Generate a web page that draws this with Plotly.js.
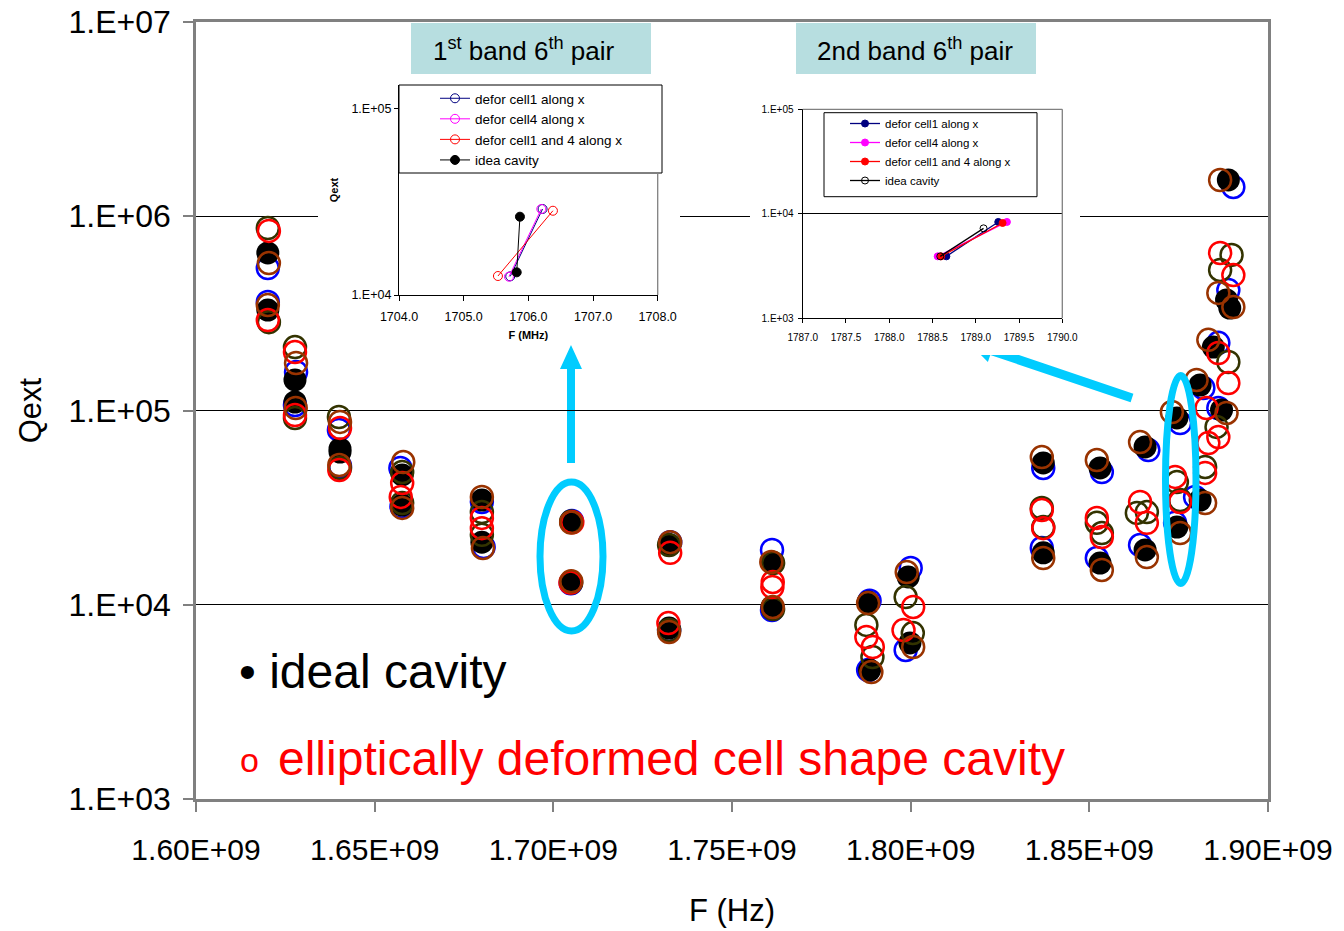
<!DOCTYPE html>
<html>
<head>
<meta charset="utf-8">
<script src="https://cdn.plot.ly/plotly-3.0.1.min.js"></script>
<style>
  html, body { margin: 0; padding: 0; background: #fff; }
  #chart { width: 1344px; height: 931px; }
</style>
</head>
<body>
<div id="chart"></div>
<script>
// ---------- main chart: Qext versus frequency ----------
const freqTicks = [1.60e9, 1.65e9, 1.70e9, 1.75e9, 1.80e9, 1.85e9, 1.90e9];
const freqTickText = ['1.60E+09', '1.65E+09', '1.70E+09', '1.75E+09', '1.80E+09', '1.85E+09', '1.90E+09'];
const qextTicks = [1e3, 1e4, 1e5, 1e6, 1e7];
const qextTickText = ['1.E+03', '1.E+04', '1.E+05', '1.E+06', '1.E+07'];

// ideal cavity (filled black)
const idealFreq = [1.6201e9, 1.6201e9, 1.6277e9, 1.6277e9, 1.6403e9, 1.6403e9, 1.6577e9, 1.6577e9,
  1.6800e9, 1.6800e9, 1.7050e9, 1.7050e9, 1.7324e9, 1.7324e9, 1.7612e9, 1.7612e9,
  1.7881e9, 1.7885e9, 1.7993e9, 1.7998e9, 1.8371e9, 1.8371e9, 1.8530e9, 1.8530e9,
  1.8656e9, 1.8656e9, 1.8745e9, 1.8745e9, 1.8810e9, 1.8810e9, 1.8847e9, 1.8870e9,
  1.8884e9, 1.8893e9, 1.8889e9];
const idealQext = [6.47e5, 3.29e5, 1.436e5, 1.106e5, 6.34e4, 6.11e4, 4.66e4, 3.26e4,
  3.46e4, 2.10e4, 2.67e4, 1.31e4, 2.03e4, 7.59e3, 1.66e4, 9.74e3,
  1.033e4, 4.61e3, 1.39e4, 6.36e3, 5.37e4, 1.85e4, 5.06e4, 1.64e4,
  6.49e4, 1.914e4, 9.15e4, 2.51e4, 1.353e5, 3.46e4, 2.12e5, 1.006e5,
  3.71e5, 3.37e5, 1.537e6];

// deformed cavities (open circles)
const blueFreq = [1.6201e9, 1.6201e9, 1.6280e9, 1.6277e9, 1.6400e9, 1.6403e9, 1.6572e9, 1.6575e9,
  1.6800e9, 1.6805e9, 1.7052e9, 1.7049e9, 1.7327e9, 1.7324e9, 1.7612e9, 1.7612e9,
  1.7885e9, 1.7881e9, 1.8000e9, 1.7986e9, 1.8371e9, 1.8367e9, 1.8535e9, 1.8521e9,
  1.8665e9, 1.8642e9, 1.8754e9, 1.8740e9, 1.8819e9, 1.8796e9, 1.8861e9, 1.8861e9,
  1.8889e9, 1.8903e9];
const blueQext = [5.41e5, 3.62e5, 1.579e5, 1.067e5, 7.94e4, 5.18e4, 5.06e4, 3.20e4,
  3.38e4, 1.983e4, 2.70e4, 1.29e4, 2.10e4, 7.41e3, 1.914e4, 9.40e3,
  1.05e4, 4.61e3, 1.546e4, 5.85e3, 5.06e4, 1.96e4, 4.82e4, 1.74e4,
  6.26e4, 2.03e4, 8.62e4, 2.64e4, 1.306e5, 3.59e4, 2.23e5, 1.030e5,
  4.17e5, 1.415e6];

const redFreq = [1.6204e9, 1.6201e9, 1.6277e9, 1.6277e9, 1.6403e9, 1.6401e9, 1.6577e9, 1.6573e9,
  1.6800e9, 1.6800e9, 1.7053e9, 1.7048e9, 1.7327e9, 1.7322e9, 1.7614e9, 1.7613e9,
  1.7876e9, 1.7894e9, 1.8007e9, 1.7980e9, 1.8367e9, 1.8371e9, 1.8521e9, 1.8535e9,
  1.8642e9, 1.8661e9, 1.8740e9, 1.8754e9, 1.8833e9, 1.8824e9, 1.8861e9, 1.8889e9,
  1.8828e9, 1.8861e9, 1.8866e9, 1.8903e9];
const redQext = [8.40e5, 2.92e5, 2.00e5, 9.48e4, 8.13e4, 4.94e4, 4.23e4, 3.59e4,
  2.80e4, 2.48e4, 2.66e4, 1.30e4, 1.85e4, 8.05e3, 1.31e4, 1.234e4,
  6.82e3, 6.06e3, 9.74e3, 7.41e3, 3.07e4, 2.48e4, 2.80e4, 2.23e4,
  3.38e4, 2.64e4, 4.55e4, 3.38e4, 6.80e4, 4.77e4, 1.977e5, 1.385e5,
  1.030e5, 7.30e4, 6.47e5, 4.98e5];

const oliveFreq = [1.6201e9, 1.6204e9, 1.6277e9, 1.6277e9, 1.6400e9, 1.6403e9, 1.6577e9, 1.6577e9,
  1.6800e9, 1.6800e9, 1.7050e9, 1.7050e9, 1.7324e9, 1.7324e9, 1.7615e9, 1.7615e9,
  1.7876e9, 1.7893e9, 1.7986e9, 1.8006e9, 1.8367e9, 1.8371e9, 1.8521e9, 1.8535e9,
  1.8633e9, 1.8661e9, 1.8745e9, 1.8754e9, 1.8824e9, 1.8889e9, 1.8856e9, 1.8898e9,
  1.8866e9];
const oliveQext = [8.70e5, 2.85e5, 2.12e5, 9.15e4, 9.26e4, 5.06e4, 4.82e4, 3.34e4,
  3.00e4, 2.29e4, 2.68e4, 1.30e4, 2.03e4, 7.41e3, 1.64e4, 9.51e3,
  7.87e3, 5.38e3, 1.096e4, 7.15e3, 3.15e4, 2.51e4, 2.64e4, 2.34e4,
  2.97e4, 3.00e4, 4.28e4, 3.46e4, 5.12e4, 1.777e5, 8.23e4, 6.32e5,
  5.29e5];

const brownFreq = [1.6204e9, 1.6201e9, 1.6280e9, 1.6279e9, 1.6403e9, 1.6401e9, 1.6580e9, 1.6577e9,
  1.6800e9, 1.6803e9, 1.7050e9, 1.7050e9, 1.7327e9, 1.7324e9, 1.7610e9, 1.7614e9,
  1.7881e9, 1.7890e9, 1.7989e9, 1.8007e9, 1.8367e9, 1.8371e9, 1.8521e9, 1.8535e9,
  1.8642e9, 1.8661e9, 1.8731e9, 1.8754e9, 1.8800e9, 1.8824e9, 1.8833e9, 1.8884e9,
  1.8861e9, 1.8903e9, 1.8866e9];
const brownQext = [5.74e5, 3.49e5, 1.756e5, 1.030e5, 8.73e4, 5.24e4, 5.43e4, 3.15e4,
  3.59e4, 1.96e4, 2.65e4, 1.32e4, 2.10e4, 7.24e3, 1.66e4, 9.74e3,
  1.02e4, 4.50e3, 1.474e4, 6.06e3, 5.76e4, 1.74e4, 5.56e4, 1.51e4,
  6.88e4, 1.76e4, 9.82e4, 2.34e4, 1.436e5, 3.34e4, 2.31e5, 9.71e4,
  4.03e5, 3.41e5, 1.537e6];

// ---------- inset: 1st band 6th pair (MHz) ----------
const band1Ticks = [1704, 1705, 1706, 1707, 1708];
const band1TickText = ['1704.0', '1705.0', '1706.0', '1707.0', '1708.0'];
const band1Names = ['defor cell1 along x', 'defor cell4 along x', 'defor cell1 and 4 along x', 'idea cavity'];
const band1Freq = [[1705.72, 1706.22], [1705.70, 1706.20], [1705.53, 1706.38], [1705.82, 1705.87]];
const band1Qext = [[12600, 29000], [12540, 29000], [12650, 28380], [13240, 26360]];

// ---------- inset: 2nd band 6th pair (MHz) ----------
const band2Ticks = [1787.0, 1787.5, 1788.0, 1788.5, 1789.0, 1789.5, 1790.0];
const band2TickText = ['1787.0', '1787.5', '1788.0', '1788.5', '1789.0', '1789.5', '1790.0'];
const band2Names = ['defor cell1 along x', 'defor cell4 along x', 'defor cell1 and 4 along x', 'idea cavity'];
const band2Freq = [[1788.66, 1789.26], [1788.56, 1789.36], [1788.60, 1789.31], [1788.59, 1789.09]];
const band2Qext = [[3917, 8356], [3917, 8356], [3917, 8170], [3917, 7260]];

// ---------- geometry helpers (pixel -> paper) ----------
const W = 1344, H = 931;
const M = { l: 196, r: 76, t: 22, b: 132 };
const PW = W - M.l - M.r;
const PH = H - M.t - M.b;
const fx = p => (p - M.l) / PW;
const fy = p => (H - M.b - p) / PH;
const poly = pts => 'M' + pts.map(p => fx(p[0]).toFixed(5) + ',' + fy(p[1]).toFixed(5)).join('L') + 'Z';

const FONT = 'Liberation Sans, Arial, sans-serif';
const CYAN = '#00CCFF';

// ---------- traces ----------
const openRing = (color) => ({ symbol: 'circle-open', size: 22, color: color, line: { width: 2.5, color: color } });

const traces = [];
traces.push({ type: 'scatter', mode: 'markers', x: blueFreq, y: blueQext, marker: openRing('#0000FF'), showlegend: false, hoverinfo: 'x+y' });
traces.push({ type: 'scatter', mode: 'markers', x: idealFreq, y: idealQext,
  marker: { symbol: 'circle', size: 23, color: '#000000', line: { width: 0 } }, showlegend: false, hoverinfo: 'x+y' });
traces.push({ type: 'scatter', mode: 'markers', x: oliveFreq, y: oliveQext, marker: openRing('#333300'), showlegend: false, hoverinfo: 'x+y' });
traces.push({ type: 'scatter', mode: 'markers', x: redFreq, y: redQext, marker: openRing('#FF0000'), showlegend: false, hoverinfo: 'x+y' });
traces.push({ type: 'scatter', mode: 'markers', x: brownFreq, y: brownQext, marker: openRing('#993300'), showlegend: false, hoverinfo: 'x+y' });

// white backing panels behind the two insets
traces.push({ type: 'scatter', x: [], y: [], xaxis: 'x2', yaxis: 'y2', showlegend: false, hoverinfo: 'skip' });
traces.push({ type: 'scatter', x: [], y: [], xaxis: 'x4', yaxis: 'y4', showlegend: false, hoverinfo: 'skip' });

const band1Colors = ['#000080', '#FF00FF', '#FF0000', '#000000'];
const band1Symbols = ['circle-open', 'circle-open', 'circle-open', 'circle'];
band1Names.forEach((name, i) => {
  traces.push({
    type: 'scatter', mode: 'lines+markers', name: name,
    x: band1Freq[i], y: band1Qext[i], xaxis: 'x3', yaxis: 'y3', legend: 'legend',
    line: { color: band1Colors[i], width: 1 },
    marker: { symbol: band1Symbols[i], size: 9, color: band1Colors[i], line: { width: 1, color: band1Colors[i] } }
  });
});

const band2Colors = ['#000080', '#FF00FF', '#FF0000', '#000000'];
const band2Symbols = ['circle', 'circle', 'circle', 'circle-open'];
band2Names.forEach((name, i) => {
  traces.push({
    type: 'scatter', mode: 'lines+markers', name: name,
    x: band2Freq[i], y: band2Qext[i], xaxis: 'x5', yaxis: 'y5', legend: 'legend2',
    line: { color: band2Colors[i], width: 1.3 },
    marker: { symbol: band2Symbols[i], size: 7, color: band2Colors[i], line: { width: 1, color: band2Colors[i] } }
  });
});

// ---------- layout ----------
const hidden = { visible: false, fixedrange: true, range: [0, 1] };

const layout = {
  width: W, height: H,
  margin: M,
  paper_bgcolor: '#FFFFFF',
  plot_bgcolor: '#FFFFFF',
  font: { family: FONT, color: '#000000' },
  showlegend: true,
  xaxis: {
    domain: [0, 1], anchor: 'y', range: [1.6e9, 1.9e9],
    tickmode: 'array', tickvals: freqTicks, ticktext: freqTickText,
    ticks: 'outside', ticklen: 10, tickcolor: '#808080', tickwidth: 1.5, ticklabelstandoff: 12,
    showline: true, linecolor: '#808080', linewidth: 2.5, mirror: true,
    showgrid: false, zeroline: false,
    tickfont: { size: 30 },
    title: { text: 'F (Hz)', font: { size: 31 }, standoff: 35 }
  },
  yaxis: {
    domain: [0, 1], anchor: 'x', type: 'log', range: [3, 7],
    tickmode: 'array', tickvals: qextTicks, ticktext: qextTickText,
    ticks: 'outside', ticklen: 10, tickcolor: '#808080', tickwidth: 1.5, ticklabelstandoff: 6,
    showline: true, linecolor: '#808080', linewidth: 2.5, mirror: true,
    showgrid: true, gridcolor: '#000000', gridwidth: 1,
    tickfont: { size: 32 },
    title: { text: 'Qext', font: { size: 31 }, standoff: 18 }
  },
  xaxis2: Object.assign({ domain: [fx(318), fx(680)], anchor: 'y2' }, hidden),
  yaxis2: Object.assign({ domain: [fy(343), fy(80)], anchor: 'x2' }, hidden),
  xaxis4: Object.assign({ domain: [fx(750), fx(1080)], anchor: 'y4' }, hidden),
  yaxis4: Object.assign({ domain: [fy(355), fy(100)], anchor: 'x4' }, hidden),
  xaxis3: {
    domain: [fx(399), fx(657.7)], anchor: 'y3', range: [1704, 1708],
    tickmode: 'array', tickvals: band1Ticks, ticktext: band1TickText,
    ticks: 'outside', ticklen: 5, tickcolor: '#000', ticklabelstandoff: 5,
    showline: true, linecolor: '#000000', linewidth: 1.3, showgrid: false, zeroline: false,
    tickfont: { size: 12.5 },
    title: { text: '<b>F (MHz)</b>', font: { size: 11 }, standoff: 8 }
  },
  yaxis3: {
    domain: [fy(295), fy(85)], anchor: 'x3', type: 'log', range: [4, 5.129],
    tickmode: 'array', tickvals: [1e4, 1e5], ticktext: ['1.E+04', '1.E+05'],
    ticks: 'outside', ticklen: 4, tickcolor: '#000', ticklabelstandoff: 0,
    showline: true, linecolor: '#000000', linewidth: 1.3, showgrid: false, zeroline: false,
    tickfont: { size: 12.5 },
    title: { text: '<b>Qext</b>', font: { size: 11 }, standoff: 10 }
  },
  xaxis5: {
    domain: [fx(802.7), fx(1062.3)], anchor: 'y5', range: [1787, 1790],
    tickmode: 'array', tickvals: band2Ticks, ticktext: band2TickText,
    ticks: 'outside', ticklen: 4, tickcolor: '#000', ticklabelstandoff: 6,
    showline: true, linecolor: '#000000', linewidth: 1.3, showgrid: false, zeroline: false,
    tickfont: { size: 10 }
  },
  yaxis5: {
    domain: [fy(318.3), fy(109.3)], anchor: 'x5', type: 'log', range: [3, 5],
    tickmode: 'array', tickvals: [1e3, 1e4, 1e5], ticktext: ['1.E+03', '1.E+04', '1.E+05'],
    ticks: 'outside', ticklen: 4, tickcolor: '#000', ticklabelstandoff: 2,
    showline: true, linecolor: '#000000', linewidth: 1.3, showgrid: true, gridcolor: '#000000', gridwidth: 1,
    zeroline: false, tickfont: { size: 10 }
  },
  legend: {
    x: fx(435), y: fy(83), xanchor: 'left', yanchor: 'top',
    bgcolor: 'rgba(0,0,0,0)', borderwidth: 0, itemwidth: 30,
    font: { size: 13.5 }, traceorder: 'normal'
  },
  legend2: {
    x: fx(845), y: fy(109), xanchor: 'left', yanchor: 'top',
    bgcolor: 'rgba(0,0,0,0)', borderwidth: 0, itemwidth: 30,
    font: { size: 11.5 }, traceorder: 'normal'
  },
  shapes: [
    // arrows pointing into the insets (drawn underneath them)
    { type: 'path', xref: 'paper', yref: 'paper', layer: 'below', fillcolor: CYAN, line: { width: 0 },
      path: poly([[571, 345], [582, 369], [575, 369], [575, 463], [567, 463], [567, 369], [560, 369]]) },
    { type: 'path', xref: 'paper', yref: 'paper', layer: 'below', fillcolor: CYAN, line: { width: 0 },
      path: poly([[969, 343], [987.9, 362.1], [990.3, 355.0], [1130.6, 402.3], [1133.4, 393.7], [993.1, 346.4], [995.5, 339.3]]) },
    // highlighted pairs
    { type: 'circle', xref: 'paper', yref: 'paper', layer: 'above', line: { color: CYAN, width: 7 },
      x0: fx(540), x1: fx(603), y0: fy(631), y1: fy(482) },
    { type: 'circle', xref: 'paper', yref: 'paper', layer: 'above', line: { color: CYAN, width: 7 },
      x0: fx(1165.5), x1: fx(1196), y0: fy(583.5), y1: fy(375.5) },
    // title boxes
    { type: 'rect', xref: 'paper', yref: 'paper', layer: 'above', fillcolor: '#B7DEE0', line: { width: 0 },
      x0: fx(411), x1: fx(651), y0: fy(74), y1: fy(23) },
    { type: 'rect', xref: 'paper', yref: 'paper', layer: 'above', fillcolor: '#B7DEE0', line: { width: 0 },
      x0: fx(796), x1: fx(1036), y0: fy(74), y1: fy(23) },
    // inset legend frames
    { type: 'rect', xref: 'paper', yref: 'paper', layer: 'above', fillcolor: '#FFFFFF', line: { color: '#000', width: 1 },
      x0: fx(399), x1: fx(662), y0: fy(173), y1: fy(85) },
    { type: 'rect', xref: 'paper', yref: 'paper', layer: 'above', fillcolor: '#FFFFFF', line: { color: '#000', width: 1 },
      x0: fx(824), x1: fx(1037), y0: fy(196.7), y1: fy(112.7) },
    // grey plot-area borders of the insets
    { type: 'line', xref: 'paper', yref: 'paper', layer: 'above', line: { color: '#808080', width: 1.3 },
      x0: fx(657.7), x1: fx(657.7), y0: fy(295), y1: fy(173) },
    { type: 'line', xref: 'paper', yref: 'paper', layer: 'above', line: { color: '#808080', width: 1.3 },
      x0: fx(1062.3), x1: fx(1062.3), y0: fy(318.3), y1: fy(109.3) },
    { type: 'line', xref: 'paper', yref: 'paper', layer: 'above', line: { color: '#808080', width: 1.3 },
      x0: fx(802.7), x1: fx(1062.3), y0: fy(109.3), y1: fy(109.3) }
  ],
  annotations: [
    { xref: 'paper', yref: 'paper', x: fx(523), y: fy(49), xanchor: 'center', yanchor: 'middle', showarrow: false,
      text: '1<sup>st</sup> band 6<sup>th</sup> pair', font: { size: 26 } },
    { xref: 'paper', yref: 'paper', x: fx(915), y: fy(49), xanchor: 'center', yanchor: 'middle', showarrow: false,
      text: '2nd band 6<sup>th</sup> pair', font: { size: 26 } },
    { xref: 'paper', yref: 'paper', x: fx(237), y: fy(671), xanchor: 'left', yanchor: 'middle', showarrow: false,
      text: '• ideal cavity', font: { size: 48, color: '#000000' } },
    { xref: 'paper', yref: 'paper', x: fx(249), y: fy(760), xanchor: 'center', yanchor: 'middle', showarrow: false,
      text: 'o', font: { size: 34, color: '#FF0000' } },
    { xref: 'paper', yref: 'paper', x: fx(276), y: fy(758), xanchor: 'left', yanchor: 'middle', showarrow: false,
      text: 'elliptically deformed cell shape cavity', font: { size: 48, color: '#FF0000' } }
  ]
};

Plotly.newPlot('chart', traces, layout, { displayModeBar: false, responsive: false });
</script>
</body>
</html>
